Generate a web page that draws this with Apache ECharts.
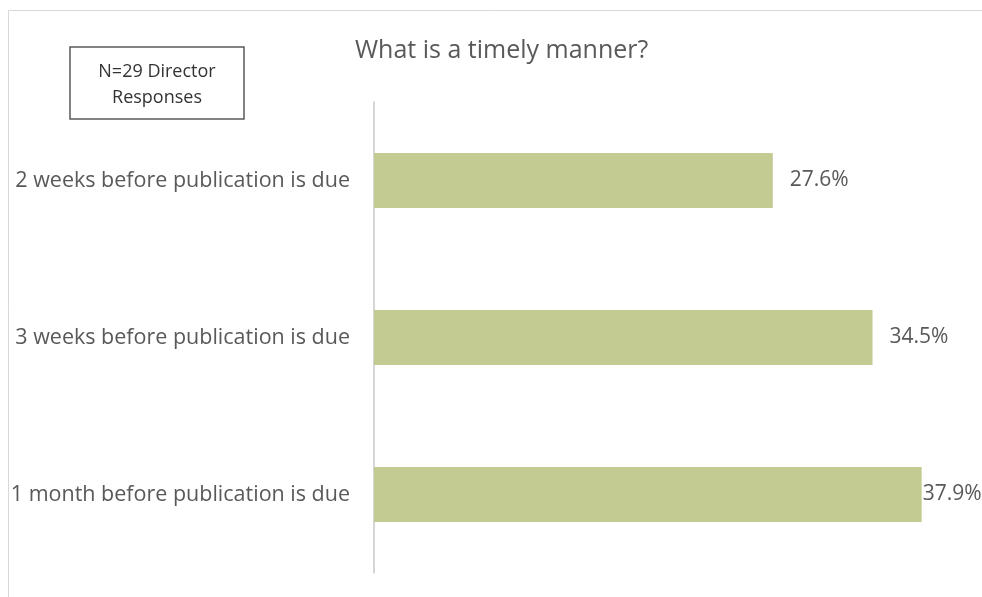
<!DOCTYPE html>
<html>
<head>
<meta charset="utf-8">
<script src="https://cdn.jsdelivr.net/npm/echarts@6/dist/echarts.min.js"></script>
<style>
  html, body { margin: 0; padding: 0; background: #fff; }
  #chart { width: 982px; height: 597px; }
</style>
</head>
<body>
<div id="chart"></div>
<script>
// Survey answers, listed bottom-to-top as the category axis draws them
const categories = [
  '1 month before publication is due',
  '3 weeks before publication is due',
  '2 weeks before publication is due'
];
const percentages = [37.9, 34.5, 27.6];
const titleText = 'What is a timely manner?';
const noteLines = ['N=29 Director', 'Responses'];

const FONT = 'Open Sans';
const TEXT = '#595959';

const chart = echarts.init(document.getElementById('chart'));

chart.setOption({
  backgroundColor: '#ffffff',
  animation: false,
  title: {
    text: titleText,
    left: 350,
    top: 33,
    textStyle: { fontFamily: FONT, fontSize: 25, fontWeight: 'normal', color: TEXT }
  },
  graphic: [
    {
      type: 'rect',
      shape: { x: 8.5, y: 10.5, width: 1000, height: 700 },
      style: { fill: 'none', stroke: '#d9d9d9', lineWidth: 1 },
      silent: true
    },
    {
      type: 'rect',
      shape: { x: 70, y: 47, width: 174, height: 72 },
      style: { fill: '#ffffff', stroke: '#5a5a5a', lineWidth: 1.5 },
      silent: true
    },
    {
      type: 'text',
      x: 157,
      y: 85,
      style: {
        text: noteLines.join('\n'),
        align: 'center',
        verticalAlign: 'middle',
        fontFamily: FONT,
        fontSize: 18,
        lineHeight: 26,
        fill: '#333333'
      },
      silent: true
    }
  ],
  grid: { left: 374, top: 102, width: 578, height: 471, containLabel: false },
  xAxis: {
    type: 'value',
    min: 0,
    max: 40,
    show: false
  },
  yAxis: {
    type: 'category',
    data: categories,
    axisLine: { show: true, lineStyle: { color: '#c8c8c8', width: 1.5 } },
    axisTick: { show: false },
    axisLabel: { fontFamily: FONT, fontSize: 21.5, color: TEXT, margin: 24 }
  },
  series: [{
    type: 'bar',
    data: percentages.map(function (v, i) {
      return {
        value: v,
        label: i === 0 ? { distance: 1 } : { distance: 17 }
      };
    }),
    barWidth: '35%',
    itemStyle: { color: '#c3cb93' },
    label: {
      show: true,
      position: 'right',
      fontFamily: FONT,
      fontSize: 21,
      color: TEXT,
      formatter: function (p) { return p.value.toFixed(1) + '%'; }
    }
  }]
});
</script>
</body>
</html>
